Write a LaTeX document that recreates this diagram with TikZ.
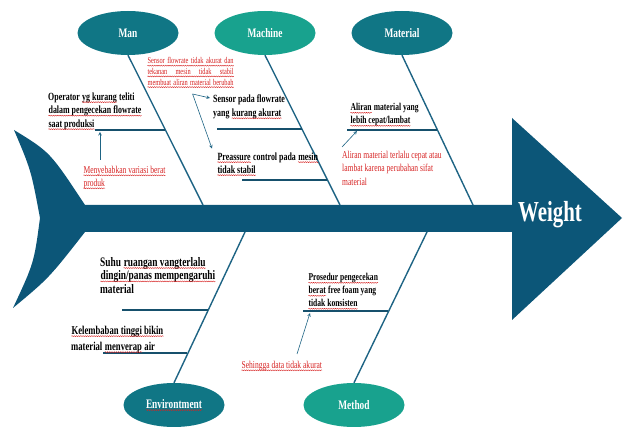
\documentclass[tikz,border=0pt]{standalone}
\usepackage{fontspec}
\setmainfont{Liberation Serif}[FakeStretch=0.72]
\usepackage{tikz}
\usetikzlibrary{shapes.geometric,decorations.pathmorphing}
\usepackage{xcolor}
\definecolor{fishblue}{RGB}{12,86,120}
\definecolor{bonecol}{RGB}{30,100,132}
\definecolor{twigcol}{RGB}{22,80,108}
\definecolor{darkteal}{RGB}{16,118,133}
\definecolor{lightteal}{RGB}{24,162,142}
\definecolor{notered}{RGB}{214,34,34}
\newcommand{\redwave}[1]{\tikz[baseline=(w.base)]{\node[shape=rectangle, fill=none, draw=none, inner sep=0pt, minimum width=0pt, minimum height=0pt, anchor=base west] (w) at (0,0) {#1}; \draw[notered, line width=0.4pt, decorate, decoration={snake, amplitude=0.5pt, segment length=2.2pt}] ([yshift=-1.8pt]w.base west) -- ([yshift=-1.8pt]w.base east);}}
\tikzstyle{arrow} = [line width=0.6pt,->,>=stealth,draw=bonecol]
\tikzstyle{bone} = [line width=1.4pt,draw=bonecol]
\tikzstyle{twig} = [line width=1.8pt,draw=twigcol]
\tikzstyle{group} = [ellipse, minimum width=101pt, minimum height=44pt, inner sep=0pt, text=white, font=\fontsize{13}{14}\selectfont\bfseries]
\tikzstyle{cause} = [anchor=north west, inner sep=0pt, align=left, font=\fontsize{11}{13.5}\selectfont\bfseries]
\tikzstyle{note} = [anchor=north west, inner sep=0pt, align=left, text=notered, font=\fontsize{10.5}{13}\selectfont]

\begin{document}
\begin{tikzpicture}[x=1pt, y=-1pt, node distance=137pt]
  \useasboundingbox (0,0) rectangle (627,427);
  \fill[fishblue] (14,130) .. controls (50,152) .. (85,205) -- (512,205) -- (512,118) -- (622,218) -- (512,320) -- (512,232) -- (85,232) .. controls (49,278) .. (13,308) .. controls (34,263) .. (40,218) .. controls (31,170) .. (14,130) -- cycle;
  \node[text=white, font=\fontsize{29}{30}\selectfont\bfseries, anchor=base] (head) at (550,222) {Weight};

  \node[group, fill=darkteal] (man) at (128,33) {Man};
  \node[group, fill=lightteal, right of=man] (machine) {Machine};
  \node[group, fill=darkteal, right of=machine] (material) {Material};
  \node[group, fill=darkteal] (env) at (174,405) {\redwave{Environtment}};
  \node[group, fill=lightteal, right of=env, xshift=43pt] (method) {Method};

  \coordinate (b1) at (203,205);
  \coordinate (b2) at (340,205);
  \coordinate (b3) at (473,205);
  \coordinate (b4) at (245,232);
  \coordinate (b5) at (427,232);
  \draw[bone] (man.south) -- (b1);
  \draw[bone] (machine.south) -- (b2);
  \draw[bone] (material.south) -- (b3);
  \draw[bone] (env.north) -- (b4);
  \draw[bone] (method.north) -- (b5);

  \coordinate (t1a) at (95,130);  \coordinate (t1b) at (165,130);
  \coordinate (t2a) at (217,129); \coordinate (t2b) at (302,129);
  \coordinate (t3a) at (242,180); \coordinate (t3b) at (327,180);
  \coordinate (t4a) at (347,130); \coordinate (t4b) at (437,130);
  \coordinate (t5a) at (122,310); \coordinate (t5b) at (208,310);
  \coordinate (t6a) at (103,353); \coordinate (t6b) at (187,353);
  \coordinate (t7a) at (303,311); \coordinate (t7b) at (388,311);
  \draw[twig] (t1a) -- (t1b);
  \draw[twig] (t2a) -- (t2b);
  \draw[twig] (t3a) -- (t3b);
  \draw[twig] (t4a) -- (t4b);
  \draw[twig] (t5a) -- (t5b);
  \draw[twig] (t6a) -- (t6b);
  \draw[twig] (t7a) -- (t7b);

  \node[cause] (operator) at (48,92.5) {Operator \redwave{yg kurang} teliti\\\redwave{dalam pengecekan flowrate}\\\redwave{saat produksi}};
  \node[cause] (sensor) at (213,95) {Sensor pada flowrate\\yang \redwave{kurang akurat}};
  \node[cause, font=\fontsize{11}{13}\selectfont\bfseries] (pressure) at (217,152.5) {\redwave{Preassure} control pada \redwave{mesin}\\\redwave{tidak stabil}};
  \node[cause, font=\fontsize{10.5}{13}\selectfont\bfseries] (flow) at (350,103.5) {\redwave{Aliran} material yang\\\redwave{lebih cepat/lambat}};
  \node[cause, font=\fontsize{13}{13.4}\selectfont\bfseries] (suhu) at (100,257) {Suhu \redwave{ruangan vangterlalu}\\\redwave{dingin/panas mempengaruhi}\\material};
  \node[cause, font=\fontsize{12}{16}\selectfont\bfseries] (lembab) at (71,325.8) {\redwave{Kelembaban tinggi bikin}\\material \redwave{menverap} air};
  \node[cause, font=\fontsize{10.5}{13}\selectfont\bfseries] (prosedur) at (308,273.5) {\redwave{Prosedur pengecekan}\\\redwave{berat} free foam yang\\\redwave{tidak konsisten}};

  \node[note] (nvariasi) at (83,166) {\redwave{Menyebabkan variasi berat}\\\redwave{produk}};
  \node[note, font=\fontsize{8.8}{10.7}\selectfont] (nmesin) at (147,57.5) {\redwave{\makebox[86pt][s]{Sensor flowrate tidak akurat dan}}\\\redwave{\makebox[86pt][s]{tekanan mesin tidak stabil}}\\\redwave{\makebox[86pt][s]{membuat aliran material berubah}}};
  \node[note, font=\fontsize{10.5}{13.5}\selectfont] (nsifat) at (342,151) {Aliran material terlalu cepat atau\\lambat karena perubahan sifat\\material};
  \node[note] (ndata) at (241,361) {\redwave{Sehingga data tidak akurat}};

  \coordinate (a1) at (100,132);
  \coordinate (a2) at (357,131);
  \coordinate (a3) at (310,313);
  \draw[arrow] ([xshift=17pt,yshift=6pt]nvariasi.north west) -- (a1);
  \draw[arrow] ([xshift=2pt,yshift=-6pt]nmesin.south) -- ([xshift=-3pt,yshift=-3pt]sensor.north west);
  \draw[arrow] ([xshift=2pt,yshift=-6pt]nmesin.south) -- ([xshift=-5pt,yshift=4pt]pressure.north west);
  \draw[arrow] ([yshift=4pt]nsifat.north west) -- (a2);
  \draw[arrow] ([xshift=56pt,yshift=7pt]ndata.north west) -- (a3);
\end{tikzpicture}
\end{document}
